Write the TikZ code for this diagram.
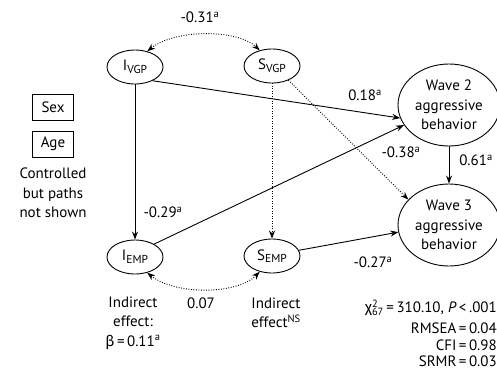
\documentclass[tikz,border=0pt]{standalone}
\usepackage{fontspec}
\setmainfont{PT Sans}
\newfontfamily\greekfont{Fira Sans}
\usetikzlibrary{shapes.geometric,arrows.meta}
\newcommand{\lowtxt}[1]{\raisebox{-0.35ex}{\fontsize{11.5}{12}\selectfont #1}}
\begin{document}
\begin{tikzpicture}[x=1pt,y=-1pt,
  every node/.style={font=\fontsize{15}{19.5}\selectfont, inner sep=0pt},
  ell/.style={draw, ellipse, line width=0.9pt, minimum width=56pt, minimum height=34pt},
  wave/.style={draw, ellipse, line width=0.9pt, minimum width=102pt, minimum height=82pt, align=center},
  ctrl/.style={draw, line width=0.9pt, minimum width=41pt, minimum height=26pt},
  lbl/.style={align=center},
  path/.style={line width=0.9pt, -{Stealth[length=8pt,width=6pt]}},
  dotpath/.style={line width=0.9pt, dash pattern=on 0.9pt off 1.6pt, -{Stealth[length=8pt,width=6pt]}},
  dotboth/.style={line width=0.9pt, dash pattern=on 0.9pt off 1.6pt, {Stealth[length=8pt,width=6pt]}-{Stealth[length=8pt,width=6pt]}}
]
\useasboundingbox (0,0) rectangle (497,368);
% nodes
\node[ell] (ivgp) at (135,67) {I\lowtxt{VGP}};
\node[ell] (svgp) at (272,66) {S\lowtxt{VGP}};
\node[ell] (iemp) at (135,257) {I\lowtxt{EMP}};
\node[ell] (semp) at (272,256) {S\lowtxt{EMP}};
\node[wave] (w2) at (449,105) {Wave 2\\aggressive\\behavior};
\node[wave] (w3) at (449,225) {Wave 3\\aggressive\\behavior};
\node[ctrl] (sex) at (53,107) {Sex};
\node[ctrl] (age) at (53,144) {Age};
\node[lbl] (ctl) at (53,193) {Controlled\\but paths\\not shown};
% connectors
\draw[path] (ivgp.-38) -- (w2.195);
\draw[path] (ivgp.south) -- (iemp.north);
\draw[path] (iemp.34) -- (w2.204);
\draw[path] (semp.12) -- (w3.188);
\draw[path] (w2.south) -- (w3.north);
\draw[dotpath] (svgp.south) -- (semp.north);
\draw[dotpath] (svgp.-41) -- (w3.148);
\draw[dotboth] (ivgp.52) .. controls (175,29) and (237,29) .. (svgp.128);
\draw[dotboth] (iemp.-52) .. controls (175,295) and (237,295) .. (semp.-128);
% labels
\node (l1) at (200,17) {-0.31\textsuperscript{a}};
\node (l2) at (365,95) {0.18\textsuperscript{a}};
\node (l3) at (401,152) {-0.38\textsuperscript{a}};
\node (l4) at (476,160) {0.61\textsuperscript{a}};
\node (l5) at (163,212) {-0.29\textsuperscript{a}};
\node (l6) at (201,303) {0.07};
\node (l7) at (373,262) {-0.27\textsuperscript{a}};
\node[lbl] (ind1) at (133,323) {Indirect\\effect:\\{\greekfont β}\,=\,0.11\textsuperscript{a}};
\node[lbl] (ind2) at (276,313) {Indirect\\effect\textsuperscript{NS}};
\node[anchor=east] (st1) at (497,308) {{\greekfont χ}\rlap{\textsuperscript{2}}\textsubscript{67}\,=\,310.10, \textit{P}\,<\,.001};
\node[anchor=east] (st2) at (497,328) {RMSEA\,=\,0.04};
\node[anchor=east] (st3) at (497,345) {CFI\,=\,0.98};
\node[anchor=east] (st4) at (497,361) {SRMR\,=\,0.03};
\end{tikzpicture}
\end{document}
